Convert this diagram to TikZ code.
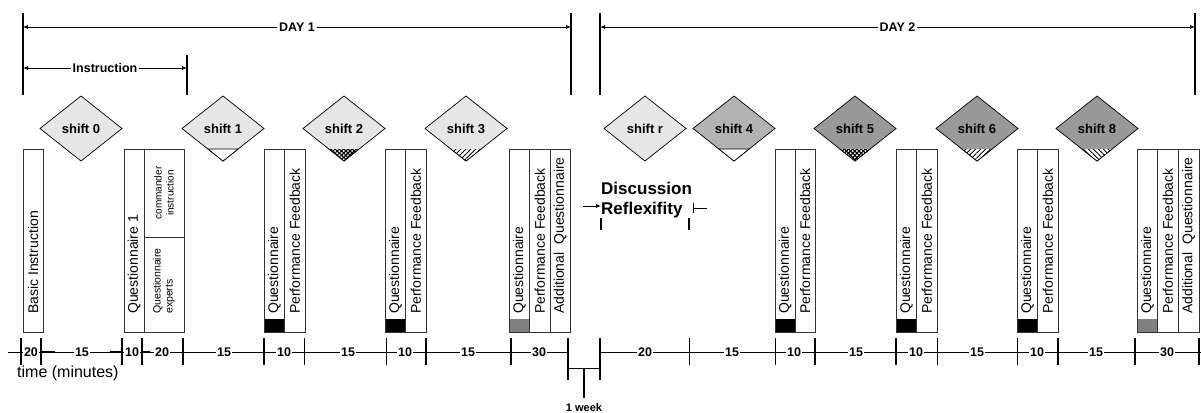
\documentclass[tikz,border=0pt]{standalone}
\usepackage{fontspec}
\setmainfont{Liberation Sans}
\usetikzlibrary{arrows.meta,patterns,patterns.meta}
\definecolor{lightg}{HTML}{E6E6E6}
\definecolor{midg}{HTML}{B3B3B3}
\definecolor{darkg}{HTML}{999999}
\definecolor{qgray}{HTML}{808080}
\definecolor{boxline}{HTML}{333333}
\tikzset{
  dimline/.style={line width=0.8pt, {Latex[length=5pt,width=4pt]}-{Latex[length=5pt,width=4pt]}},
  dimbar/.style={line width=1.6pt},
  dimlabel/.style={fill=white, inner sep=2pt, font=\bfseries\fontsize{12.5}{14}\selectfont},
  colbox/.style={draw=boxline, line width=0.9pt},
  vtext/.style={rotate=90, anchor=west, inner sep=0pt, font=\fontsize{14}{16}\selectfont},
  smalltext/.style={rotate=90, inner sep=0pt, font=\fontsize{10}{12}\selectfont},
  shiftlabel/.style={font=\bfseries\fontsize{13}{15}\selectfont, inner sep=0pt},
  dline/.style={draw=black, line width=0.7pt},
  axisline/.style={line width=0.8pt},
  tickthick/.style={line width=1.8pt},
  tickthin/.style={line width=0.9pt},
  axlabel/.style={fill=white, inner sep=1.5pt, font=\bfseries\fontsize{12.5}{14}\selectfont},
  disctext/.style={anchor=base west, inner sep=0pt, font=\bfseries\fontsize{17}{20}\selectfont},
  smallarrow/.style={line width=0.8pt, -{Latex[length=5pt,width=4pt]}},
}
\newcommand{\shiftdia}[4]{%
  \filldraw[dline, fill=#3] (#2-41,128.5) -- (#2,96) -- (#2+41,128.5) -- (#2,161) -- cycle;
  \node[shiftlabel] (#1) at (#2,128.5) {#4};}
\newcommand{\botwhite}[1]{%
  \filldraw[dline, fill=white] (#1-15.1,149) -- (#1+15.1,149) -- (#1,161) -- cycle;}
\newcommand{\botpat}[2]{%
  \fill[white] (#1-15.1,149) -- (#1+15.1,149) -- (#1,161) -- cycle;
  \fill[pattern={#2}] (#1-15.1,149) -- (#1+15.1,149) -- (#1,161) -- cycle;
  \draw[dline] (#1-15.1,149) -- (#1,161) -- (#1+15.1,149);}
\newcommand{\botcross}[1]{%
  \fill[white] (#1-15.1,149) -- (#1+15.1,149) -- (#1,161) -- cycle;
  \fill[pattern={Lines[angle=45,distance=3pt,line width=1.2pt]}] (#1-15.1,149) -- (#1+15.1,149) -- (#1,161) -- cycle;
  \fill[pattern={Lines[angle=-45,distance=3pt,line width=1.2pt]}] (#1-15.1,149) -- (#1+15.1,149) -- (#1,161) -- cycle;
  \draw[dline] (#1-15.1,149) -- (#1,161) -- (#1+15.1,149);}
% feedback group: name, x0, x1, x2, fill
\newcommand{\qpgroup}[5]{%
  \fill[#5] (#2,319) rectangle (#3,332);
  \draw[colbox] (#2,149) rectangle (#3,332);
  \draw[colbox] (#3,149) rectangle (#4,332);
  \node[vtext] (#1q) at ({(#2+#3)/2},314) {Questionnaire};
  \node[vtext] (#1p) at ({(#3+#4)/2},314) {Performance Feedback};}
\newcommand{\addcol}[3]{%
  \draw[colbox] (#2,149) rectangle (#3,332);
  \node[vtext] (#1a) at ({(#2+#3)/2},314) {Additional\ \ Questionnaire};}
\begin{document}
\begin{tikzpicture}[x=1pt,y=-1pt]
\useasboundingbox (0,0) rectangle (1201,412);
% ---- DAY 1 / Instruction / DAY 2 dimensions
\draw[dimbar] (23,13) -- (23,95);
\draw[dimbar] (571,13) -- (571,95);
\draw[dimbar] (187,55) -- (187,95);
\draw[dimbar] (600,13) -- (600,95);
\draw[dimbar] (1195,13) -- (1195,95);
\coordinate (d1a) at (23,27); \coordinate (d1b) at (571,27);
\coordinate (ina) at (23,68); \coordinate (inb) at (187,68);
\coordinate (d2a) at (600,27); \coordinate (d2b) at (1195,27);
\draw[dimline] (d1a) -- (d1b) node[dimlabel, midway] (day1) {DAY 1};
\draw[dimline] (ina) -- (inb) node[dimlabel, midway] (instr) {Instruction};
\draw[dimline] (d2a) -- (d2b) node[dimlabel, midway] (day2) {DAY 2};
% ---- columns
\draw[colbox] (23,149) rectangle (43,332);
\node[vtext] (basic) at (33,314) {Basic Instruction};
\draw[colbox] (124,149) rectangle (144,332);
\node[vtext] (q1) at (134,314) {Questionnaire 1};
\draw[colbox] (144,149) rectangle (184,237);
\draw[colbox] (144,237) rectangle (184,332);
\node[smalltext, align=center] (cmd) at (164,193) {commander\\instruction};
\node[smalltext, anchor=west, align=left, font=\fontsize{10.5}{12}\selectfont] (qexp) at (164,314) {Questionnaire\\experts};
\qpgroup{c}{264}{284.5}{305}{black}
\qpgroup{d}{385}{405.5}{426}{black}
\qpgroup{e}{509}{529.5}{550}{qgray}
\addcol{e}{550}{570}
\qpgroup{f}{775}{795}{815}{black}
\qpgroup{g}{896}{916.5}{937}{black}
\qpgroup{h}{1017}{1037.5}{1058}{black}
\qpgroup{i}{1137}{1157.5}{1178}{qgray}
\addcol{i}{1178}{1199}
% ---- diamonds
\shiftdia{s0}{81}{lightg}{shift 0}
\shiftdia{s1}{223}{lightg}{shift 1}
\botwhite{223}
\shiftdia{s2}{344}{lightg}{shift 2}
\botcross{344}
\shiftdia{s3}{466}{lightg}{shift 3}
\botpat{466}{Lines[angle=45,distance=3.5pt,line width=0.9pt]}
\shiftdia{sr}{645}{lightg}{shift r}
\shiftdia{s4}{734}{midg}{shift 4}
\botwhite{734}
\shiftdia{s5}{855}{darkg}{shift 5}
\botcross{855}
\shiftdia{s6}{977}{darkg}{shift 6}
\botpat{977}{Lines[angle=45,distance=3.5pt,line width=0.9pt]}
\shiftdia{s8}{1097}{darkg}{shift 8}
\botpat{1097}{Lines[angle=-45,distance=3.5pt,line width=0.9pt]}
% ---- discussion
\node[disctext] (disc) at (601,194) {Discussion};
\node[disctext] (refl) at (601,214) {Reflexifity};
\coordinate (dtail) at (583,206);
\draw[smallarrow] (dtail) -- (dtail -| refl.west);
\coordinate (rtick) at (693,208);
\draw[line width=0.9pt] ([yshift=-5pt]rtick) -- ([yshift=5pt]rtick);
\draw[line width=0.8pt] (rtick) -- ++(14,0);
\draw[line width=1.5pt] (601,218) -- (601,230);
\draw[line width=1.5pt] (689,218) -- (689,230);
% ---- time axis
\draw[axisline] (8,352) -- (568,352);
\draw[axisline] (600,352) -- (1201,352);
\draw[line width=1.8pt] (41,352) -- (55,352);
\draw[line width=1.8pt] (110,352) -- (122,352);
\draw[line width=1.8pt] (142,352) -- (150,352);
\foreach \x in {21,41,122,142,183,264,426,511,815,896,1058,1135,1199}
  \draw[tickthick] (\x,338) -- (\x,365);
\foreach \x in {304,386,689,775,937,1017}
  \draw[tickthin] (\x,338) -- (\x,365);
\draw[tickthick] (568,338) -- (568,380);
\draw[tickthick] (600,338) -- (600,380);
\foreach \x/\t in {31/20,82/15,132/10,162/20,224/15,284/10,348/15,405/10,468/15,539/30,645/20,732/15,794/10,856/15,916/10,977/15,1037/10,1096/15,1167/30}
  \node[axlabel] at (\x,352) {\t};
\draw[line width=0.8pt] (568,368) -- (600,368);
\draw[line width=1.5pt] (584,368) -- (584,398);
\node[anchor=base, inner sep=0pt, font=\bfseries\fontsize{11}{13}\selectfont] (week) at (584,411) {1 week};
\node[anchor=base west, inner sep=0pt, font=\fontsize{16}{18}\selectfont] (tlabel) at (17,377) {time (minutes)};
\end{tikzpicture}
\end{document}
